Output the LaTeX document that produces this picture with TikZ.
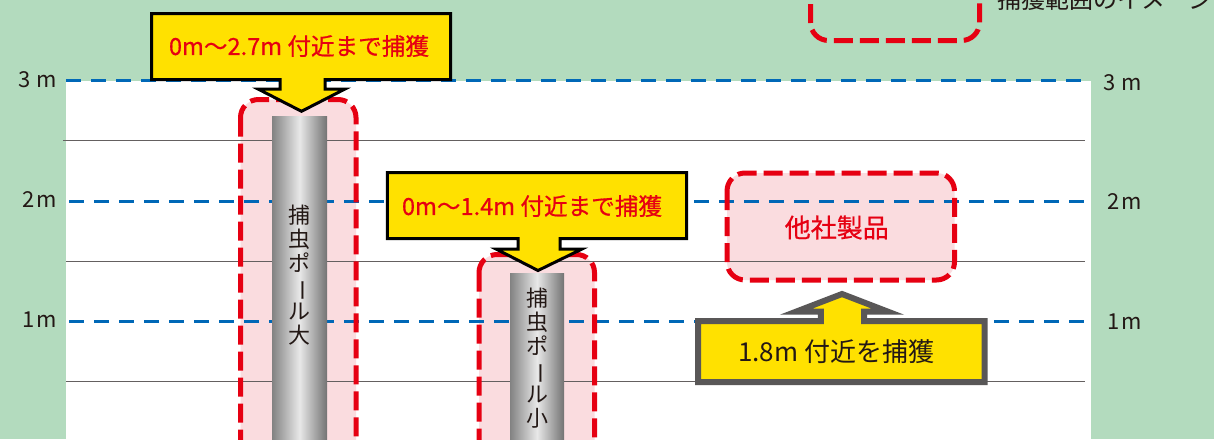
\documentclass[tikz,border=0pt]{standalone}
\usepackage{fontspec}
\setmainfont{Noto Sans CJK JP}
\newfontfamily\medfont{Noto Sans CJK JP}[FakeBold=0.6]
\usepackage{graphicx}
\usetikzlibrary{calc}
\definecolor{bggreen}{RGB}{179,219,190}
\definecolor{capred}{RGB}{230,0,18}
\definecolor{pinkfill}{RGB}{250,220,223}
\definecolor{dashblue}{RGB}{0,104,183}
\definecolor{callyellow}{RGB}{255,225,0}
\definecolor{graybd}{RGB}{89,87,87}
\definecolor{inkdark}{RGB}{35,24,21}
\definecolor{thinline}{RGB}{100,96,96}
\definecolor{poledark}{RGB}{130,130,130}
\definecolor{poledarkr}{RGB}{115,115,115}
\definecolor{polelight}{RGB}{232,232,232}
\tikzset{
  gridline/.style={draw=thinline, line width=1pt},
  meterline/.style={draw=dashblue, line width=3pt, dash pattern=on 15pt off 10pt},
  rangefill/.style={fill=pinkfill, rounded corners=18pt},
  rangeborder/.style={draw=capred, line width=5pt, dash pattern=on 19pt off 7pt, rounded corners=18pt},
  pole/.style={left color=poledark, right color=poledarkr, middle color=polelight, inner sep=0pt, anchor=north},
  poletext/.style={text=inkdark, align=center, font=\fontsize{22}{24}\selectfont, inner sep=0pt},
  calloutblack/.style={fill=callyellow, draw=black, line width=3pt, line join=miter},
  calloutgray/.style={fill=callyellow, draw=graybd, line width=6pt, line join=miter},
  redtext/.style={text=capred, font=\medfont\fontsize{23.6}{26}\selectfont, inner sep=0pt},
  darktext/.style={text=inkdark, font=\fontsize{26}{28}\selectfont, inner sep=0pt},
  scalelabel/.style={text=inkdark, font=\fontsize{22}{24}\selectfont, inner sep=0pt},
}
\begin{document}
\begin{tikzpicture}[x=1pt,y=-1pt]
\useasboundingbox (0,0) rectangle (1214,439);
\clip (0,0) rectangle (1214,439);
\fill[bggreen] (0,0) rectangle (1214,439);
\fill[white] (66,80.5) rectangle (1091,445);

% capture range corners
\coordinate (bigNW) at (240.5,99.5);   \coordinate (bigSE) at (356,500);
\coordinate (smallNW) at (479,254.5);  \coordinate (smallSE) at (594.5,500);
\coordinate (otherNW) at (727,173);    \coordinate (otherSE) at (954.5,280);
\coordinate (legNW) at (810.5,-40);    \coordinate (legSE) at (979.5,40.5);

\fill[rangefill] (bigNW) rectangle (bigSE);
\fill[rangefill] (smallNW) rectangle (smallSE);
\fill[rangefill] (otherNW) rectangle (otherSE);

% grid lines
\coordinate (g1a) at (63,140.5);  \coordinate (g1b) at (1085,140.5);
\coordinate (g2a) at (66,261);    \coordinate (g2b) at (1085,261);
\coordinate (g3a) at (66,381);    \coordinate (g3b) at (1085,381);
\draw[gridline] (g1a) -- (g1b);
\draw[gridline] (g2a) -- (g2b);
\draw[gridline] (g3a) -- (g3b);

% meter lines
\coordinate (m3a) at (66,80.5);   \coordinate (m3b) at (1087,80.5);
\coordinate (m2a) at (69,201);    \coordinate (m2b) at (1091,201);
\coordinate (m1a) at (69,321);    \coordinate (m1b) at (1091,321);
\draw[meterline] (m3a) -- (m3b);
\draw[meterline] (m2a) -- (m2b);
\draw[meterline] (m1a) -- (m1b);

% poles
\node[pole, minimum width=55pt, minimum height=340pt] (bigpole) at (299.5,116) {};
\node[pole, minimum width=54pt, minimum height=180pt] (smallpole) at (537,273) {};
\node[poletext] (bigtext) at (299.5,275) {捕\\虫\\ポ\\\rotatebox[origin=c]{-90}{ー}\\ル\\大};
\node[poletext] (smalltext) at (537.5,358) {捕\\虫\\ポ\\\rotatebox[origin=c]{-90}{ー}\\ル\\小};

% range borders
\draw[rangeborder] (bigNW) rectangle (bigSE);
\draw[rangeborder] (smallNW) rectangle (smallSE);
\draw[rangeborder] (otherNW) rectangle (otherSE);
\draw[rangeborder] (legNW) rectangle (legSE);
\node[redtext, font=\medfont\fontsize{26}{28}\selectfont] (othertext) at ($(otherNW)!0.5!(otherSE)+(-4,1)$) {他社製品};

% callouts
\draw[calloutblack] (151.5,13.5) -- (450.5,13.5) -- (450.5,79.5) -- (325,79.5) -- (325,89) -- (345,89) -- (301.5,111.3) -- (258,89) -- (280,89) -- (280,79.5) -- (151.5,79.5) -- cycle;
\node[redtext] (callA) at (299,46) {0m～2.7m 付近まで捕獲};

\draw[calloutblack] (387.3,172.5) -- (686.5,172.5) -- (686.5,238.5) -- (560,238.5) -- (560,249) -- (582,249) -- (538,270.5) -- (496,249) -- (518,249) -- (518,238.5) -- (387.3,238.5) -- cycle;
\node[redtext] (callB) at (532,206) {0m～1.4m 付近まで捕獲};

\draw[calloutgray] (698,321) -- (820.8,321) -- (820.8,311.7) -- (796,311.7) -- (842,294) -- (888,311.7) -- (864,311.7) -- (864,321) -- (984.7,321) -- (984.7,382) -- (698,382) -- cycle;
\node[darktext] (callC) at (836,352) {1.8m 付近を捕獲};

% scale labels
\node[scalelabel, anchor=east] (l3) at (57,80) {3\kern6pt m};
\node[scalelabel, anchor=east] (l2) at (57,200) {2\kern2pt m};
\node[scalelabel, anchor=east] (l1) at (57,320) {1\kern2pt m};
\node[scalelabel, anchor=west] (r3) at (1103,83) {3\kern6pt m};
\node[scalelabel, anchor=west] (r2) at (1107,202) {2\kern2pt m};
\node[scalelabel, anchor=west] (r1) at (1107,322) {1\kern2pt m};

% legend text
\node[scalelabel, anchor=west, font=\fontsize{24}{26}\selectfont] (legtext) at (997,-1) {捕獲範囲のイメージ};
\end{tikzpicture}
\end{document}
